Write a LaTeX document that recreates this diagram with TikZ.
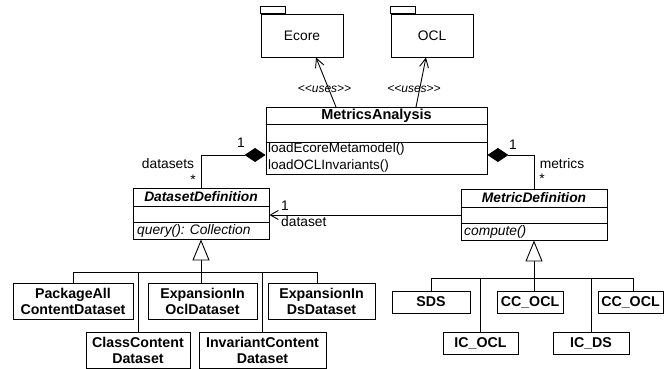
\documentclass[tikz,border=0pt]{standalone}
\usepackage{fontspec}
\setmainfont{Liberation Sans}
\usetikzlibrary{arrows.meta}
\begin{document}
\begin{tikzpicture}[x=1pt,y=-1pt,
  ln/.style={line width=0.9pt},
  box/.style={draw,line width=0.9pt,inner sep=0pt,align=center,font=\fontsize{14.2}{16}\selectfont\bfseries},
  txt/.style={inner sep=0pt,font=\fontsize{13.5}{15.5}\selectfont},
  lbl/.style={inner sep=0pt,font=\fontsize{13.8}{15}\selectfont},
  uses/.style={inner sep=0pt,font=\fontsize{12}{14}\selectfont\itshape},
  comp/.style={ln,{Diamond[length=21pt,width=14pt,fill=black]}-},
  dep/.style={ln,-{Straight Barb[length=9pt,width=9pt,line width=0.9pt]}},
  inh/.style={ln,-{Triangle[open,length=21pt,width=17pt,fill=white,line width=0.9pt]}},
  nav/.style={ln,-{Straight Barb[length=8pt,width=9pt,line width=0.9pt]}}]
\useasboundingbox (0,0) rectangle (664,369);

% packages
\node[box,font=\fontsize{13.8}{15.5}\selectfont,minimum width=82pt,minimum height=43pt] (ecore) at (302,35.5) {Ecore};
\draw[ln] (ecore.north west) rectangle ++(25,-7);
\node[box,font=\fontsize{13.8}{15.5}\selectfont,minimum width=82pt,minimum height=43pt] (ocl) at (432,35.5) {OCL};
\draw[ln] (ocl.north west) rectangle ++(25,-7);

% MetricsAnalysis
\node[box,minimum width=221pt,minimum height=67pt] (ma) at (376.5,140.5) {};
\draw[ln] (ma.west |- 0,124) -- (ma.east |- 0,124);
\draw[ln] (ma.west |- 0,142) -- (ma.east |- 0,142);
\node[txt,font=\fontsize{14.5}{16}\selectfont\bfseries] (maname) at (376.5,115.5) {MetricsAnalysis};
\node[txt,anchor=west] (op1) at (268,149.5) {loadEcoreMetamodel()};
\node[txt,anchor=west] (op2) at (268,166.5) {loadOCLInvariants()};

% DatasetDefinition
\node[box,minimum width=136pt,minimum height=51pt] (dd) at (201,213.5) {};
\draw[ln] (dd.west |- 0,206) -- (dd.east |- 0,206);
\draw[ln] (dd.west |- 0,222) -- (dd.east |- 0,222);
\node[txt,font=\fontsize{13.8}{15.5}\selectfont\bfseries\itshape] (ddname) at (201,197) {DatasetDefinition};
\node[txt,anchor=west,font=\fontsize{13.8}{15.5}\selectfont\itshape] (ddop) at (137,230.5) {query(): Collection};

% MetricDefinition
\node[box,minimum width=146pt,minimum height=51pt] (md) at (534,214.5) {};
\draw[ln] (md.west |- 0,207) -- (md.east |- 0,207);
\draw[ln] (md.west |- 0,223) -- (md.east |- 0,223);
\node[txt,font=\fontsize{13.8}{15.5}\selectfont\bfseries\itshape] (mdname) at (534,198) {MetricDefinition};
\node[txt,anchor=west,font=\fontsize{13.8}{15.5}\selectfont\itshape] (mdop) at (464,231.5) {compute()};

% dependencies
\coordinate (d1s) at (336,107);
\coordinate (d2s) at (416,107);
\draw[dep] (d1s) -- (ecore.south -| 316,0);
\draw[dep] (d2s) -- (ocl.south -| 426,0);
\node[uses] (u1) at (324.5,89) {<{}<uses>{}>};
\node[uses] (u2) at (414,89) {<{}<uses>{}>};

% compositions
\draw[comp] (ma.west |- 0,155) -- (dd.north |- 0,155) -- (dd.north);
\draw[comp] (ma.east |- 0,155) -- (md.north |- 0,155) -- (md.north);
\node[lbl] (l1a) at (241,143) {1};
\node[lbl] (lds) at (168,164) {datasets};
\node[lbl] (lsa) at (193,180) {*};
\node[lbl] (l1b) at (513,145) {1};
\node[lbl] (lms) at (562,164) {metrics};
\node[lbl] (lsb) at (542,179) {*};

% association
\draw[nav] (md.west |- 0,215) -- (dd.east |- 0,215);
\node[lbl] (l1c) at (285,206) {1};
\node[lbl,anchor=west] (ldset) at (281,222) {dataset};

% dataset subclasses
\node[box,minimum width=120pt,minimum height=36pt] (pa) at (73,301) {PackageAll\\ContentDataset};
\node[box,minimum width=109pt,minimum height=36pt] (eo) at (202.5,301) {ExpansionIn\\OclDataset};
\node[box,minimum width=107pt,minimum height=36pt] (ed) at (321.5,301) {ExpansionIn\\DsDataset};
\node[box,minimum width=104pt,minimum height=36pt] (cc) at (138,350.5) {ClassContent\\Dataset};
\node[box,minimum width=127pt,minimum height=36pt] (ic) at (262.5,350.5) {InvariantContent\\Dataset};
\draw[inh] (dd.south |- eo.north) -- (dd.south);
\draw[ln] (pa.north) |- ([xshift=-4pt]ed.north |- 0,272) -- ([xshift=-4pt]ed.north);
\draw[ln] (cc.north) -- (cc.north |- 0,272);
\draw[ln] (ic.north) -- (ic.north |- 0,272);

% metric subclasses
\node[box,minimum width=78pt,minimum height=22pt] (sds) at (431,302) {SDS};
\node[box,minimum width=66pt,minimum height=22pt] (cc1) at (530,302) {CC\_OCL};
\node[box,minimum width=65pt,minimum height=22pt] (cc2) at (630.5,302) {CC\_OCL};
\node[box,minimum width=75pt,minimum height=22pt] (ico) at (480.5,343) {IC\_OCL};
\node[box,minimum width=76pt,minimum height=22pt] (icd) at (591,343) {IC\_DS};
\draw[inh] (md.south |- cc1.north) -- (md.south);
\draw[ln] (sds.north) |- ([xshift=2.5pt]cc2.north |- 0,278) -- ([xshift=2.5pt]cc2.north);
\draw[ln] (ico.north) -- (ico.north |- 0,278);
\draw[ln] (icd.north) -- (icd.north |- 0,278);
\end{tikzpicture}
\end{document}
